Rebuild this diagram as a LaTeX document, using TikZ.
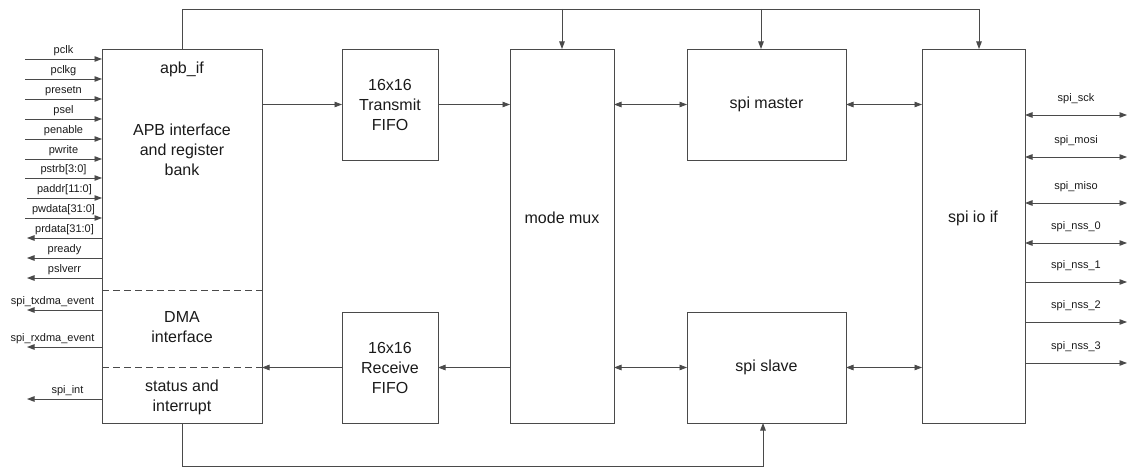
\documentclass[tikz,border=0pt]{standalone}
\usepackage{fontspec}
\setmainfont{Liberation Sans}
\usetikzlibrary{arrows.meta}
\definecolor{ln}{HTML}{4A4A4A}
\definecolor{tx}{HTML}{1A1A1A}
\begin{document}
\begin{tikzpicture}[x=1pt,y=-1pt,
  blk/.style={draw=ln, line width=0.9pt, rectangle, anchor=north west, inner sep=0pt, outer sep=0pt},
  wire/.style={draw=ln, line width=0.9pt},
  arr/.style={wire, -{Triangle[length=7.5pt,width=5.5pt]}},
  barr/.style={wire, {Triangle[length=7.5pt,width=5.5pt]}-{Triangle[length=7.5pt,width=5.5pt]}},
  btxt/.style={font=\fontsize{16}{20}\selectfont, align=center, text=tx, inner sep=0pt},
  sig/.style={font=\fontsize{11}{13}\selectfont, text=tx, inner sep=1pt, yshift=1.5pt},
  rsig/.style={sig, yshift=8pt}
]
\useasboundingbox (0,0) rectangle (1128,468);

% blocks
\node[blk, minimum width=160pt, minimum height=374pt] (apb) at (102,49) {};
\node[blk, minimum width=96pt, minimum height=111pt] (txf) at (342,49) {};
\node[blk, minimum width=96pt, minimum height=111pt] (rxf) at (342,312) {};
\node[blk, minimum width=104pt, minimum height=374pt] (mux) at (510,49) {};
\node[blk, minimum width=159pt, minimum height=111pt] (mst) at (687,49) {};
\node[blk, minimum width=159pt, minimum height=111pt] (slv) at (687,312) {};
\node[blk, minimum width=103pt, minimum height=374pt] (io) at (922,49) {};

% texts
\node[btxt] (apbT1) at (182,69) {apb\_if};
\node[btxt] (apbT2) at (182,150) {APB interface\\and register\\bank};
\node[btxt] (apbT3) at (182,327) {DMA\\interface};
\node[btxt] (apbT4) at (182,397) {status and\\interrupt};
\node[btxt] (txfT) at (txf.center) {16x16\\Transmit\\FIFO};
\node[btxt] (rxfT) at (rxf.center) {16x16\\Receive\\FIFO};
\node[btxt] (muxT) at (562,218) {mode mux};
\node[btxt] (mstT) at (mst.center) {spi master};
\node[btxt] (slvT) at (slv.center) {spi slave};
\node[btxt] (ioT) at (973,218) {spi io if};

% dashed separators
\coordinate (d1) at (0,290);
\coordinate (d2) at (0,367.5);
\draw[wire, dash pattern=on 7pt off 4pt] (apb.west |- d1) -- (apb.east |- d1);
\draw[wire, dash pattern=on 7pt off 4pt] (apb.west |- d2) -- (apb.east |- d2);

% internal connectors
\draw[arr] (apb.east |- txf.west) -- (txf.west);
\draw[arr] (txf.east) -- (mux.west |- txf.east);
\draw[barr] (mux.east |- mst.west) -- (mst.west);
\draw[barr] (mst.east) -- (io.west |- mst.east);
\draw[arr] (mux.west |- rxf.east) -- (rxf.east);
\draw[arr] (rxf.west) -- (apb.east |- rxf.west);
\draw[barr] (mux.east |- slv.west) -- (slv.west);
\draw[barr] (slv.east) -- (io.west |- slv.east);

% top bus
\coordinate (tM) at (562,9);
\coordinate (tS) at (761,9);
\coordinate (tR) at (979,9);
\draw[arr] (apb.north) |- (tR) -- (tR |- io.north);
\draw[arr] (tM) -- (tM |- mux.north);
\draw[arr] (tS) -- (tS |- mst.north);

% bottom bus
\coordinate (bS) at (763,466);
\draw[arr] (apb.south) |- (bS) -- (bS |- slv.south);

% left inputs
\foreach \n/\y/\x/\t in {a/59/25/pclk, b/79/25/pclkg, c/99/25/presetn, d/119/25/psel,
    e/139/25/penable, f/159/25/pwrite, g/178/25/{pstrb[3:0]}, h/198/27/{paddr[11:0]},
    i/218/25/{pwdata[31:0]}}{
  \coordinate (in\n) at (\x,\y);
  \draw[arr] (in\n) -- (apb.west |- in\n) node[sig, midway, above] (inL\n) {\t};
}
% left outputs
\foreach \n/\y/\dx/\t in {a/238/0/{prdata[31:0]}, b/258/0/pready, c/278/0/pslverr,
    d/310/-12/spi\_txdma\_event, e/347/-12/spi\_rxdma\_event, f/399/3/spi\_int}{
  \coordinate (out\n) at (27,\y);
  \draw[arr] (apb.west |- out\n) -- (out\n) node[sig, midway, above, xshift=\dx pt] (outL\n) {\t};
}
% right side
\foreach \n/\y/\t in {a/115/spi\_sck, b/157/spi\_mosi, c/203/spi\_miso, d/243/spi\_nss\_0}{
  \coordinate (r\n) at (1127,\y);
  \draw[barr] (io.east |- r\n) -- (r\n) node[rsig, midway, above] (rL\n) {\t};
}
\foreach \n/\y/\t in {e/282/spi\_nss\_1, f/322/spi\_nss\_2, g/363/spi\_nss\_3}{
  \coordinate (r\n) at (1127,\y);
  \draw[arr] (io.east |- r\n) -- (r\n) node[rsig, midway, above] (rL\n) {\t};
}
\end{tikzpicture}
\end{document}
